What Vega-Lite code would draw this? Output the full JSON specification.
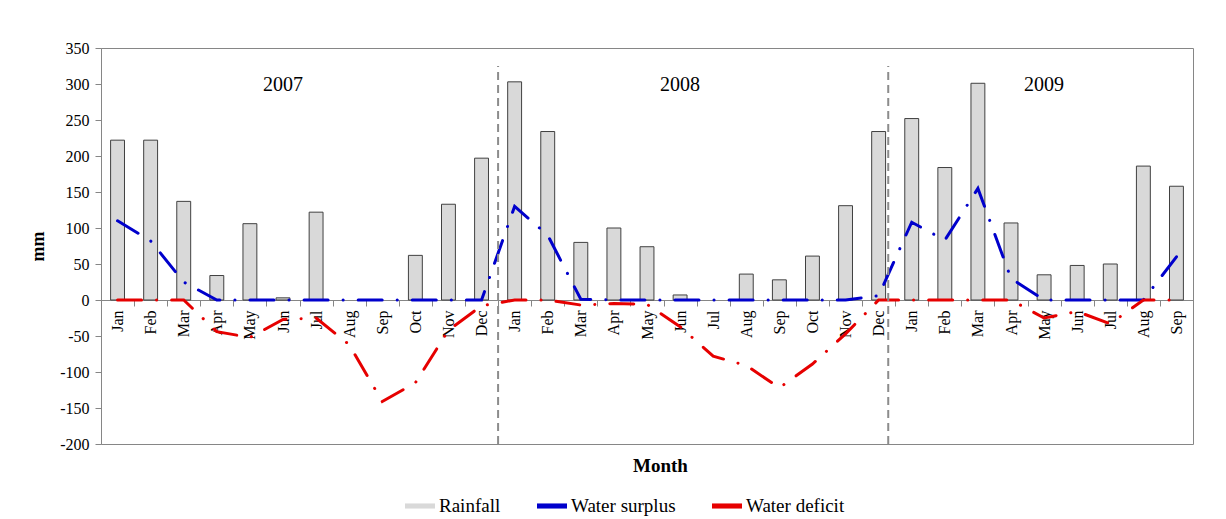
{
  "$schema": "https://vega.github.io/schema/vega-lite/v6.json",
  "width": 1092,
  "height": 396,
  "autosize": {"type": "none"},
  "padding": {"left": 101, "top": 48, "right": 33, "bottom": 75},
  "background": "white",
  "config": {
    "view": {"stroke": "#868686", "strokeWidth": 1},
    "font": "Liberation Serif",
    "axis": {"labelFont": "Liberation Serif", "titleFont": "Liberation Serif", "labelColor": "#000000", "titleColor": "#000000", "domainColor": "#868686", "tickColor": "#868686", "grid": false},
    "axisY": {"values": [-200, -150, -100, -50, 0, 50, 100, 150, 200, 250, 300, 350], "tickCount": 20, "labelOverlap": false}
  },
  "data": {
    "values": [
      {"t": "2007-01", "rain": 222, "surplus": 110, "deficit": 0},
      {"t": "2007-02", "rain": 222, "surplus": 82, "deficit": 0},
      {"t": "2007-03", "rain": 137, "surplus": 25, "deficit": 0},
      {"t": "2007-04", "rain": 34, "surplus": 0, "deficit": -44},
      {"t": "2007-05", "rain": 106, "surplus": 0, "deficit": -52},
      {"t": "2007-06", "rain": 3, "surplus": 0, "deficit": -27},
      {"t": "2007-07", "rain": 122, "surplus": 0, "deficit": -25},
      {"t": "2007-08", "rain": 0, "surplus": 0, "deficit": -62},
      {"t": "2007-09", "rain": 0, "surplus": 0, "deficit": -141},
      {"t": "2007-10", "rain": 62, "surplus": 0, "deficit": -115},
      {"t": "2007-11", "rain": 133, "surplus": 0, "deficit": -42},
      {"t": "2007-12", "rain": 197, "surplus": 0, "deficit": -8},
      {"t": "2008-01", "rain": 303, "surplus": 130, "deficit": 0},
      {"t": "2008-02", "rain": 234, "surplus": 90, "deficit": 0},
      {"t": "2008-03", "rain": 80, "surplus": 1, "deficit": -7},
      {"t": "2008-04", "rain": 100, "surplus": 0, "deficit": -5},
      {"t": "2008-05", "rain": 74, "surplus": 0, "deficit": -6},
      {"t": "2008-06", "rain": 7, "surplus": 0, "deficit": -37},
      {"t": "2008-07", "rain": 0, "surplus": 0, "deficit": -78},
      {"t": "2008-08", "rain": 36, "surplus": 0, "deficit": -91},
      {"t": "2008-09", "rain": 28, "surplus": 0, "deficit": -122},
      {"t": "2008-10", "rain": 61, "surplus": 0, "deficit": -89},
      {"t": "2008-11", "rain": 131, "surplus": 0, "deficit": -47},
      {"t": "2008-12", "rain": 234, "surplus": 6, "deficit": 0},
      {"t": "2009-01", "rain": 252, "surplus": 108, "deficit": 0},
      {"t": "2009-02", "rain": 184, "surplus": 83, "deficit": 0},
      {"t": "2009-03", "rain": 301, "surplus": 155, "deficit": 0},
      {"t": "2009-04", "rain": 107, "surplus": 30, "deficit": 0},
      {"t": "2009-05", "rain": 35, "surplus": 0, "deficit": -25},
      {"t": "2009-06", "rain": 48, "surplus": 0, "deficit": -16},
      {"t": "2009-07", "rain": 50, "surplus": 0, "deficit": -33},
      {"t": "2009-08", "rain": 186, "surplus": 0, "deficit": 0},
      {"t": "2009-09", "rain": 158, "surplus": 60, "deficit": 0}
    ]
  },
  "layer": [
    {
      "transform": [{"filter": "datum.rain > 0"}],
      "mark": {"type": "bar", "stroke": "#404040", "strokeWidth": 1, "width": {"band": 0.42}},
      "encoding": {
        "x": {
          "field": "t",
          "type": "ordinal",
          "scale": {"paddingInner": 0, "paddingOuter": 0},
          "title": "Month",
          "axis": {
            "offset": -144,
            "labelAngle": 270,
            "labelFontSize": 16,
            "labelPadding": 4,
            "tickSize": 6,
            "tickBand": "extent",
            "labelExpr": "isString(datum.value) && length(datum.value) > 5 ? ['Jan','Feb','Mar','Apr','May','Jun','Jul','Aug','Sep','Oct','Nov','Dec'][toNumber(substring(datum.value, 5, 7)) - 1] : ''",
            "titleFontSize": 19,
            "titleFontWeight": "bold",
            "titleX": 559,
            "titleY": 165,
            "titleBaseline": "middle"
          }
        },
        "y": {
          "field": "rain",
          "type": "quantitative",
          "scale": {"domain": [-200, 350], "nice": false},
          "title": "mm",
          "axis": {
            "values": [-200, -150, -100, -50, 0, 50, 100, 150, 200, 250, 300, 350],
            "tickCount": 20,
            "labelOverlap": false,
            "labelExpr": "datum.value < 0 ? '-' + abs(datum.value) : '' + datum.value",
            "labelFontSize": 16,
            "labelPadding": 6,
            "tickSize": 6,
            "titleFontSize": 18,
            "titleFontWeight": "bold",
            "titleX": -63,
            "titleBaseline": "middle"
          }
        },
        "color": {
          "datum": "Rainfall",
          "type": "nominal",
          "scale": {"domain": ["Rainfall", "Water surplus", "Water deficit"], "range": ["#d9d9d9", "#0000cc", "#e60000"]},
          "legend": {
            "orient": "none",
            "legendX": 304,
            "legendY": 443,
            "direction": "horizontal",
            "title": null,
            "labelFont": "Liberation Serif",
            "labelFontSize": 19,
            "labelColor": "#000000",
            "symbolType": "M-1,-0.17H1V0.17H-1Z",
            "symbolSize": 900,
            "symbolStrokeWidth": 0,
            "columnPadding": 36,
            "labelOffset": 4
          }
        }
      }
    },
    {
      "mark": {"type": "line", "strokeWidth": 3, "strokeDash": [24, 15, 0.1, 15], "strokeCap": "round"},
      "encoding": {
        "x": {"field": "t", "type": "ordinal"},
        "y": {"field": "surplus", "type": "quantitative"},
        "color": {"datum": "Water surplus", "type": "nominal"}
      }
    },
    {
      "mark": {"type": "line", "strokeWidth": 3, "strokeDash": [24, 15, 0.1, 15], "strokeCap": "round"},
      "encoding": {
        "x": {"field": "t", "type": "ordinal"},
        "y": {"field": "deficit", "type": "quantitative"},
        "color": {"datum": "Water deficit", "type": "nominal"}
      }
    },
    {
      "data": {"values": [{"t": "2008-01"}]},
      "mark": {"type": "rule", "color": "#8c8c8c", "strokeWidth": 2, "strokeDash": [8, 5]},
      "encoding": {
        "x": {"field": "t", "type": "ordinal", "bandPosition": 0},
        "y": {"datum": -200, "type": "quantitative"},
        "y2": {"datum": 325}
      }
    },
    {
      "data": {"values": [{"t": "2008-12"}]},
      "mark": {"type": "rule", "color": "#8c8c8c", "strokeWidth": 2, "strokeDash": [8, 5]},
      "encoding": {
        "x": {"field": "t", "type": "ordinal", "bandPosition": 0.79},
        "y": {"datum": -200, "type": "quantitative"},
        "y2": {"datum": 325}
      }
    },
    {
      "data": {"values": [
        {"t": "2007-06", "label": "2007", "v": 299},
        {"t": "2008-06", "label": "2008", "v": 299},
        {"t": "2009-05", "label": "2009", "v": 299}
      ]},
      "mark": {"type": "text", "font": "Liberation Serif", "fontSize": 20, "color": "#000000", "baseline": "middle", "align": "center"},
      "encoding": {
        "x": {"field": "t", "type": "ordinal"},
        "y": {"field": "v", "type": "quantitative"},
        "text": {"field": "label"}
      }
    }
  ]
}
